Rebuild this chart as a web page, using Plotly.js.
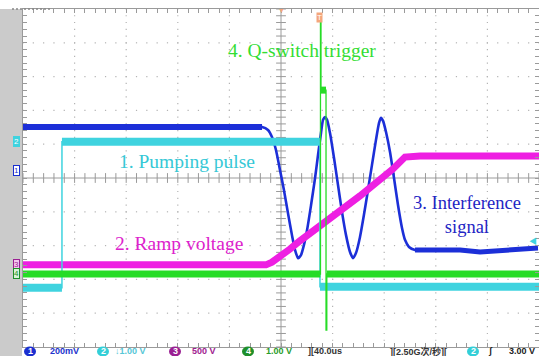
<!DOCTYPE html>
<html>
<head>
<meta charset="utf-8">
<script src="https://cdn.plot.ly/plotly-3.0.1.min.js"></script>
<style>
  html, body { margin: 0; padding: 0; background: #ffffff; }
  #scope { width: 539px; height: 356px; }
</style>
</head>
<body>
<div id="scope"></div>
<script>
// Time base: 40 us/div, 10 divisions; vertical values are in screen divisions.
// Channel 1 - interference signal (blue)
const interferenceT = [-200.0, -14.7, -10.1, -7.0, -3.9, -0.8, 2.3, 5.4, 8.5, 10.9, 13.2, 15.5, 17.8, 20.2, 23.3, 26.4, 28.7, 31.0, 32.6, 34.1, 35.7, 38.0, 41.1, 44.2, 47.3, 50.4, 53.5, 55.8, 58.1, 61.2, 64.3, 67.4, 70.5, 73.6, 76.0, 77.5, 79.1, 81.4, 84.5, 87.6, 90.7, 93.8, 96.1, 99.2, 103.9, 138.8, 154.3, 177.5, 199.2];
const interferenceV = [1.51, 1.51, 1.42, 1.21, 0.83, 0.24, -0.36, -1.04, -1.69, -2.13, -2.37, -2.28, -1.98, -1.54, -0.80, 0.00, 0.68, 1.33, 1.72, 1.80, 1.72, 1.33, 0.59, -0.21, -1.01, -1.69, -2.19, -2.37, -2.22, -1.75, -1.09, -0.36, 0.38, 1.12, 1.63, 1.78, 1.69, 1.36, 0.77, 0.00, -0.80, -1.48, -1.83, -2.04, -2.13, -2.13, -2.19, -2.13, -2.07];

// Channel 2 - pumping pulse (cyan)
const pumpT = [-200.0, -169.8, -169.8, 30.2, 30.2, 200.0];
const pumpV = [-3.25, -3.25, 1.07, 1.07, -3.22, -3.22];

// Channel 3 - ramp voltage (magenta)
const rampT = [-200.0, -11.6, -7.0, -0.8, 7.0, 14.7, 35.7, 61.2, 86.8, 92.2, 96.1, 107.8, 200.0];
const rampV = [-2.57, -2.57, -2.49, -2.34, -2.10, -1.86, -1.27, -0.53, 0.27, 0.50, 0.62, 0.65, 0.65];

// Channel 4 - Q-switch trigger (green)
const trigT = [-200.0, 30.6, 30.6, 31.0, 31.0, 34.9, 34.9, 35.5, 35.5, 200.0];
const trigV = [-2.84, -2.84, 4.73, 4.73, 2.60, 2.60, -4.50, -4.50, -2.84, -2.84];

// Trace labels
const labelText = ['4. Q-switch trigger', '1. Pumping pulse', '2. Ramp voltage', '3. Interference<br>signal'];

// Status bar readouts
const chScale = ['200mV', '↓1.00 V', '500 V', '1.00 V'];
const timeReadout = '40.0us';
const rateReadout = '2.50G次/秒';
const trigReadout = '3.00 V';

const BLUE = '#1c2fd8', CYAN = '#3fd3df', MAGENTA = '#ee1fe2', GREEN = '#26dc26';
const GRID = '#b4b4b4', FRAME = '#9a9a9a';

// Horizontal runs of a stepped trace, split at vertical edges; used for the thick noise band
function bandRuns(xs, ys, minLen) {
  const x = [], y = [];
  for (let i = 0; i < xs.length - 1; i++) {
    if (xs[i + 1] - xs[i] >= minLen) {
      x.push(xs[i], xs[i + 1], null);
      y.push(ys[i], ys[i + 1], null);
    }
  }
  return { x, y };
}

const pumpBand = bandRuns(pumpT, pumpV, 2);
const trigBand = bandRuns(trigT, trigV, 2);
const nI = interferenceT.length;

// Graticule: ticks along the centre cross and dotted division lines
const cx = [], cy = [], vx = [], vy = [], gx = [], gy = [];
for (let k = -25; k <= 25; k++) { cx.push(k * 8); cy.push(0); }
for (let k = -25; k <= 25; k++) { vx.push(0); vy.push(k * 0.2); }
for (let d = -4; d <= 4; d++) {
  if (d === 0) continue;
  for (let k = -25; k <= 25; k++) {
    gx.push(d * 40); gy.push(k * 0.2);   // vertical dotted line
    gx.push(k * 8); gy.push(d);          // horizontal dotted line
  }
}

const traces = [
  { x: gx, y: gy, mode: 'markers', marker: { symbol: 'square', size: 1.2, color: GRID, line: { width: 0 } }, hoverinfo: 'skip' },
  { x: cx, y: cy, mode: 'markers', marker: { symbol: 'line-ns', size: 7, line: { color: FRAME, width: 1 } }, hoverinfo: 'skip' },
  { x: vx, y: vy, mode: 'markers', marker: { symbol: 'line-ew', size: 7, line: { color: FRAME, width: 1 } }, hoverinfo: 'skip' },
  // channel 1
  { x: interferenceT, y: interferenceV, mode: 'lines', line: { color: BLUE, width: 2.6, shape: 'spline', smoothing: 0.6 } },
  { x: interferenceT.slice(0, 2), y: interferenceV.slice(0, 2), mode: 'lines', line: { color: BLUE, width: 6 } },
  { x: interferenceT.slice(nI - 5), y: interferenceV.slice(nI - 5), mode: 'lines', line: { color: BLUE, width: 5 } },
  // channel 3
  { x: rampT, y: rampV, mode: 'lines', line: { color: MAGENTA, width: 7 } },
  // channel 2
  { x: pumpT, y: pumpV, mode: 'lines', line: { color: CYAN, width: 1.5 } },
  { x: pumpBand.x, y: pumpBand.y, mode: 'lines', line: { color: CYAN, width: 8 }, connectgaps: false },
  // channel 4
  { x: trigT, y: trigV, mode: 'lines', line: { color: GREEN, width: 1.3 } },
  { x: trigBand.x, y: trigBand.y, mode: 'lines', line: { color: GREEN, width: 7 }, connectgaps: false }
];

// Pixel geometry of the plot area
const L = 23, T = 9, W = 516, H = 338;
const px = v => (v - L) / W;          // page x -> paper x
const py = v => (T + H - v) / H;      // page y -> paper y

const shapes = [
  // grey side strip
  { type: 'rect', xref: 'paper', yref: 'paper', x0: px(0), x1: px(22), y0: py(356), y1: py(9), fillcolor: '#cbcbcb', line: { width: 0 }, layer: 'below' },
  // centre cross
  { type: 'line', xref: 'x', yref: 'paper', x0: 0, x1: 0, y0: 0, y1: 1, line: { color: FRAME, width: 1 }, layer: 'below' },
  { type: 'line', xref: 'paper', yref: 'y', x0: 0, x1: 1, y0: 0, y1: 0, line: { color: FRAME, width: 1 }, layer: 'below' },
  // top-left header dashes
  { type: 'line', xref: 'paper', yref: 'paper', x0: px(12), x1: px(50), y0: py(9), y1: py(9), line: { color: '#888', width: 1.5, dash: '2px,2px' } }
];

// status badges
const SY = 351.5;
const badges = [
  { x: 30, c: '#1a2fd0', t: '1' },
  { x: 103, c: '#33cfd8', t: '2' },
  { x: 175, c: '#9a1f92', t: '3' },
  { x: 248, c: '#1f8f2a', t: '4' },
  { x: 473, c: '#33cfd8', t: '2' }
];
badges.forEach(b => {
  shapes.push({ type: 'circle', xref: 'paper', yref: 'paper', xsizemode: 'pixel', ysizemode: 'pixel',
    xanchor: px(b.x), yanchor: py(SY), x0: -6, x1: 6, y0: -5, y1: 5, fillcolor: b.c, line: { width: 0 } });
});

const serif = 'Liberation Serif, Times New Roman, serif';
const sans = 'Liberation Sans, Arial, Noto Sans CJK SC, sans-serif';

const annotations = [
  { x: 16.3, y: 3.76, text: labelText[0], font: { family: serif, size: 19.5, color: '#33dd33' } },
  { x: -72.9, y: 0.50, text: labelText[1], font: { family: serif, size: 19.5, color: '#36c8d6' } },
  { x: -79.1, y: -1.95, text: labelText[2], font: { family: serif, size: 19.5, color: '#dd22cc' } },
  { x: 144.2, y: -1.1, text: labelText[3], font: { family: serif, size: 18.5, color: '#2224c4' } }
].map(a => Object.assign({ xref: 'x', yref: 'y', showarrow: false, xanchor: 'center', yanchor: 'middle' }, a));

// channel reference markers on the left strip
const markers = [
  { y: 141, t: '2', bg: CYAN, fg: '#ffffff', bc: CYAN },
  { y: 170, t: '1', bg: '#ffffff', fg: '#1a2fd0', bc: '#1a2fd0' },
  { y: 264, t: '3', bg: '#f4c8f0', fg: '#9a1f92', bc: '#9a1f92' },
  { y: 273, t: '4', bg: '#d8f4d8', fg: '#1f8f2a', bc: '#1f8f2a' }
];
markers.forEach(m => annotations.push({
  xref: 'paper', yref: 'paper', x: px(16), y: py(m.y), showarrow: false, xanchor: 'center', yanchor: 'middle',
  text: m.t, bgcolor: m.bg, bordercolor: m.bc, borderwidth: 1, borderpad: 0,
  font: { family: sans, size: 8, color: m.fg }
}));

// trigger position and level indicators
annotations.push({ xref: 'x', yref: 'paper', x: 30.2, y: py(17), text: 'T', showarrow: false,
  bgcolor: '#f4a67c', font: { family: sans, size: 8, color: '#ffffff' }, borderpad: 0, xanchor: 'center', yanchor: 'middle' });
annotations.push({ xref: 'x', yref: 'paper', x: 0, y: py(10), text: '▼', showarrow: false,
  font: { family: sans, size: 7, color: '#f4a67c' }, xanchor: 'center', yanchor: 'middle' });
annotations.push({ xref: 'paper', yref: 'y', x: 1, y: -1.89, text: '◀', showarrow: false,
  font: { family: sans, size: 8, color: CYAN }, xanchor: 'right', yanchor: 'middle' });

// status bar text
const statusItems = [
  { x: 30, t: '1', c: '#ffffff', a: 'center' },
  { x: 48, t: chScale[0], c: '#2233cc', a: 'left' },
  { x: 103, t: '2', c: '#ffffff', a: 'center' },
  { x: 113, t: chScale[1], c: '#55c6d6', a: 'left' },
  { x: 175, t: '3', c: '#ffffff', a: 'center' },
  { x: 190, t: chScale[2], c: '#a0208f', a: 'left' },
  { x: 248, t: '4', c: '#ffffff', a: 'center' },
  { x: 264, t: chScale[3], c: '#2a9c2a', a: 'left' },
  { x: 306, t: '][' + timeReadout, c: '#333333', a: 'left' },
  { x: 388, t: '][' + rateReadout + '][', c: '#333333', a: 'left' },
  { x: 473, t: '2', c: '#ffffff', a: 'center' },
  { x: 490, t: 'ʃ', c: '#222222', a: 'center' },
  { x: 537, t: trigReadout, c: '#222222', a: 'right' }
];
statusItems.forEach(s => annotations.push({
  xref: 'paper', yref: 'paper', x: px(s.x), y: py(SY), text: '<b>' + s.t + '</b>', showarrow: false,
  xanchor: s.a, yanchor: 'middle', font: { family: sans, size: 9, color: s.c }
}));

const axisCommon = {
  showticklabels: false, zeroline: false, showline: true, linecolor: FRAME, linewidth: 1, mirror: 'ticks',
  ticks: 'inside', ticklen: 4, tickcolor: FRAME, showgrid: false, fixedrange: true
};

const layout = {
  width: 539, height: 356,
  margin: { l: L, r: 0, t: T, b: 356 - T - H, pad: 0 },
  paper_bgcolor: '#ffffff', plot_bgcolor: '#ffffff',
  showlegend: false,
  xaxis: Object.assign({}, axisCommon, { range: [-200, 200], tick0: 0, dtick: 40,
    minor: { dtick: 8, ticks: 'inside', ticklen: 4, tickcolor: FRAME, showgrid: false } }),
  yaxis: Object.assign({}, axisCommon, { range: [-5, 5], tick0: 0, dtick: 1,
    minor: { dtick: 0.2, ticks: 'inside', ticklen: 4, tickcolor: FRAME, showgrid: false } }),
  shapes: shapes,
  annotations: annotations
};

Plotly.newPlot('scope', traces, layout, { staticPlot: true, displayModeBar: false });
</script>
</body>
</html>
